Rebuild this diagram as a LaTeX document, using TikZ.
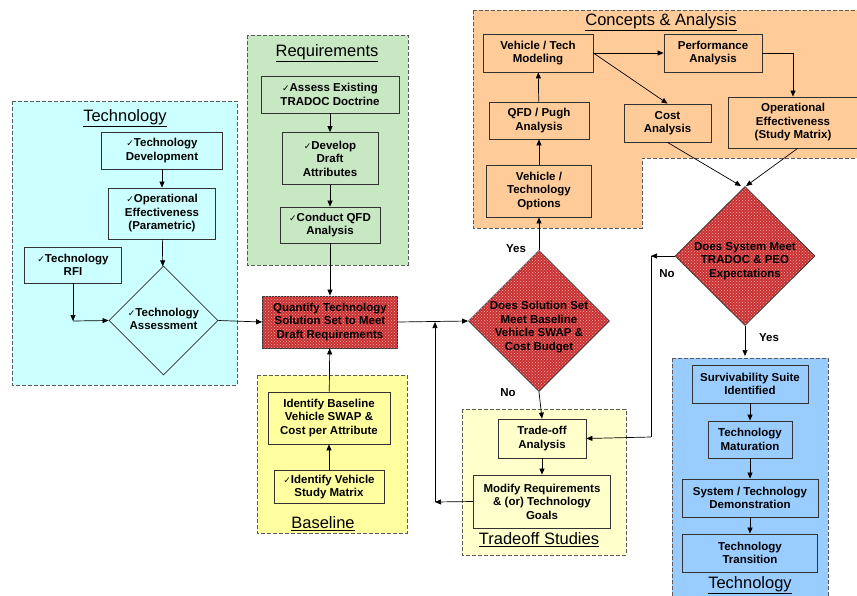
\documentclass[tikz,border=0pt]{standalone}
\usepackage{fontspec}
\setmainfont{Liberation Sans}
\newfontfamily\djv{DejaVu Sans}
\usetikzlibrary{arrows.meta,shapes.geometric,patterns}
\newcommand{\ck}{{\djv\fontsize{9}{9}\selectfont\mdseries ✓}}
\definecolor{cyanbg}{RGB}{204,255,255}
\definecolor{greenbg}{RGB}{200,232,196}
\definecolor{orangebg}{RGB}{255,204,153}
\definecolor{yellowbg}{RGB}{255,255,160}
\definecolor{creambg}{RGB}{255,255,204}
\definecolor{bluebg}{RGB}{153,204,255}
\definecolor{redfill}{RGB}{200,50,50}
\definecolor{reddot}{RGB}{255,170,170}
\definecolor{edge}{RGB}{50,50,50}
\begin{document}
\begin{tikzpicture}[x=1pt,y=-1pt,
  panel/.style={draw=edge!80, dash pattern=on 4pt off 2pt, line width=0.9pt},
  bx/.style={draw=edge, line width=0.8pt, align=center, inner sep=0pt,
    font=\bfseries\fontsize{11.5}{13.5}\selectfont},
  txt/.style={align=center, inner sep=0pt, font=\bfseries\fontsize{11.5}{13.5}\selectfont},
  ttl/.style={inner sep=0pt, font=\fontsize{16.5}{18}\selectfont},
  lbl/.style={inner sep=0pt, font=\bfseries\fontsize{11.5}{13}\selectfont},
  dia/.style={diamond, draw=edge, line width=0.8pt, inner sep=0pt},
  redf/.style={fill=redfill, postaction={pattern=crosshatch dots, pattern color=reddot}},
  arr/.style={-{Triangle[width=5pt,length=6pt]}, line width=0.7pt},
  ln/.style={line width=0.7pt}]
\useasboundingbox (0,0) rectangle (857,595);
\fill[white] (0,0) rectangle (857,595);

% ---------- panels ----------
\draw[panel, fill=cyanbg] (12,101) rectangle (237,385);
\draw[panel, fill=greenbg] (247,35) rectangle (408,265);
\draw[panel, fill=yellowbg] (257,375) rectangle (407,533);
\draw[panel, fill=creambg] (462,409) rectangle (626,555);
\draw[panel, fill=orangebg] (473,10) -- (860,10) -- (860,158) -- (642,158) -- (642,228) -- (473,228) -- cycle;
\draw[panel, fill=bluebg] (672,358) rectangle (828,600);

% ---------- titles ----------
\node[ttl] (t1) at (125,118) {\underline{Technology}};
\node[ttl] (t2) at (327,53) {\underline{Requirements}};
\node[ttl] (t3) at (323,524) {\underline{Baseline}};
\node[ttl] (t4) at (539,540) {\underline{Tradeoff Studies}};
\node[ttl] (t5) at (661,22) {\underline{Concepts \& Analysis}};
\node[ttl] (t6) at (750,585) {\underline{Technology}};

% ---------- left technology ----------
\node[bx, minimum width=121pt, minimum height=37pt] (td) at (162,150.5) {\ck Technology\\Development};
\node[bx, minimum width=107pt, minimum height=51pt] (oe1) at (162,213.5) {\ck Operational\\Effectiveness\\(Parametric)};
\node[bx, minimum width=97pt, minimum height=36pt] (rfi) at (73,265) {\ck Technology\\RFI};
\node[dia, minimum width=109pt, minimum height=109pt] (ta) at (163.5,320.5) {};
\node[txt] (tat) at (163.5,319) {\ck Technology\\Assessment};
\coordinate (rc) at (73,321);

% ---------- requirements ----------
\node[bx, minimum width=138pt, minimum height=37pt] (aed) at (330,94.5) {\ck Assess Existing\\TRADOC Doctrine};
\node[bx, minimum width=96pt, minimum height=52pt] (dda) at (330,158.5) {\ck Develop\\Draft\\Attributes};
\node[bx, minimum width=100pt, minimum height=36pt] (cqa) at (330,225) {\ck Conduct QFD\\Analysis};

% ---------- quantify ----------
\node[bx, redf, minimum width=135pt, minimum height=52pt] (qt) at (330,322) {Quantify Technology\\Solution Set to Meet\\Draft Requirements};

% ---------- baseline ----------
\node[bx, minimum width=122pt, minimum height=52pt] (ibv) at (329,418) {Identify Baseline\\Vehicle SWAP \&\\Cost per Attribute};
\node[bx, minimum width=110pt, minimum height=33pt] (ivs) at (329,487) {\ck Identify Vehicle\\Study Matrix};

% ---------- central decision ----------
\node[dia, redf, minimum width=141pt, minimum height=141pt] (ds) at (539,321) {};
\node[txt] (dst) at (539,327) {Does Solution Set\\Meet Baseline\\Vehicle SWAP \&\\Cost Budget};
\node[lbl] (yes1) at (516,249) {Yes};
\node[lbl] (no1) at (508,393) {No};
\coordinate (lc) at (435,502);
\coordinate (lt) at (435,322);

% ---------- concepts & analysis ----------
\node[bx, minimum width=110pt, minimum height=38pt] (vtm) at (538,53) {Vehicle / Tech\\Modeling};
\node[bx, minimum width=98pt, minimum height=38pt] (pa) at (713,53) {Performance\\Analysis};
\node[bx, minimum width=100pt, minimum height=37pt] (qfd) at (539,120.5) {QFD / Pugh\\Analysis};
\node[bx, minimum width=87pt, minimum height=38pt] (ca) at (667.5,123) {Cost\\Analysis};
\node[bx, minimum width=130pt, minimum height=51pt] (oe2) at (793,122.5) {Operational\\Effectiveness\\(Study Matrix)};
\node[bx, minimum width=105pt, minimum height=52pt] (vto) at (539,191) {Vehicle /\\Technology\\Options};
\coordinate (pc) at (793,53);

% ---------- right decision ----------
\node[dia, redf, minimum width=140pt, minimum height=139pt] (dsm) at (745,256) {};
\node[txt] (dsmt) at (745,261) {Does System Meet\\TRADOC \& PEO\\Expectations};
\node[lbl] (no2) at (667,274) {No};
\node[lbl] (yes2) at (769,338) {Yes};
\coordinate (dtop1) at (741,186);
\coordinate (dtop2) at (746,186);
\coordinate (nc) at (651,256);
\coordinate (nb) at (651,437);
\coordinate (bt) at (745,356);

% ---------- right technology ----------
\node[bx, minimum width=116pt, minimum height=38pt] (ssi) at (750,384) {Survivability Suite\\Identified};
\node[bx, minimum width=84pt, minimum height=37pt] (tm) at (750,439.5) {Technology\\Maturation};
\node[bx, minimum width=136pt, minimum height=38pt] (std) at (750,498) {System / Technology\\Demonstration};
\node[bx, minimum width=135pt, minimum height=38pt] (tt) at (750,553) {Technology\\Transition};

% ---------- tradeoff ----------
\node[bx, minimum width=88pt, minimum height=39pt] (toa) at (542,438.5) {Trade-off\\Analysis};
\node[bx, minimum width=137pt, minimum height=53pt] (mrt) at (542,501.5) {Modify Requirements\\\& (or) Technology\\Goals};

% ---------- connectors ----------
\draw[arr] (td) -- (oe1);
\draw[arr] (oe1) -- (ta);
\draw[arr] (rfi.south) -- (rc);
\draw[arr] (rc) -- (ta.west);
\draw[arr] (ta.east) -- (qt.west);
\draw[arr] (aed) -- (dda);
\draw[arr] (dda) -- (cqa);
\draw[arr] (cqa) -- (qt);
\draw[arr] (ivs) -- (ibv);
\draw[arr] (ibv) -- (qt);
\draw[arr] (qt.east) -- (ds.west);
\draw[arr] (mrt.west) -- (lc);
\draw[arr] (lc) -- (lt);
\draw[arr] (ds.north) -- (vto.south);
\draw[arr] (vto) -- (qfd);
\draw[arr] (qfd) -- (vtm);
\draw[arr] (vtm.east) -- (pa.west);
\draw[arr] (vtm.east) -- (ca.north);
\draw[ln] (pa.east) -- (pc);
\draw[arr] (pc) -- (oe2.north -| pc);
\draw[arr] (ca.south) -- (dtop1);
\draw[arr] (oe2.south west) ++(70,0) coordinate (oeb) (oeb) -- (dtop2);
\draw[arr] (dsm.west) -- (nc);
\draw[ln] (nc) -- (nb);
\draw[arr] (nb) -- (toa.east);
\draw[arr] (dsm.south) -- (bt);
\draw[arr] (ds.south) -- (toa.north);
\draw[arr] (toa) -- (mrt);
\draw[arr] (ssi) -- (tm);
\draw[arr] (tm) -- (std);
\draw[arr] (std) -- (tt);
\end{tikzpicture}
\end{document}
